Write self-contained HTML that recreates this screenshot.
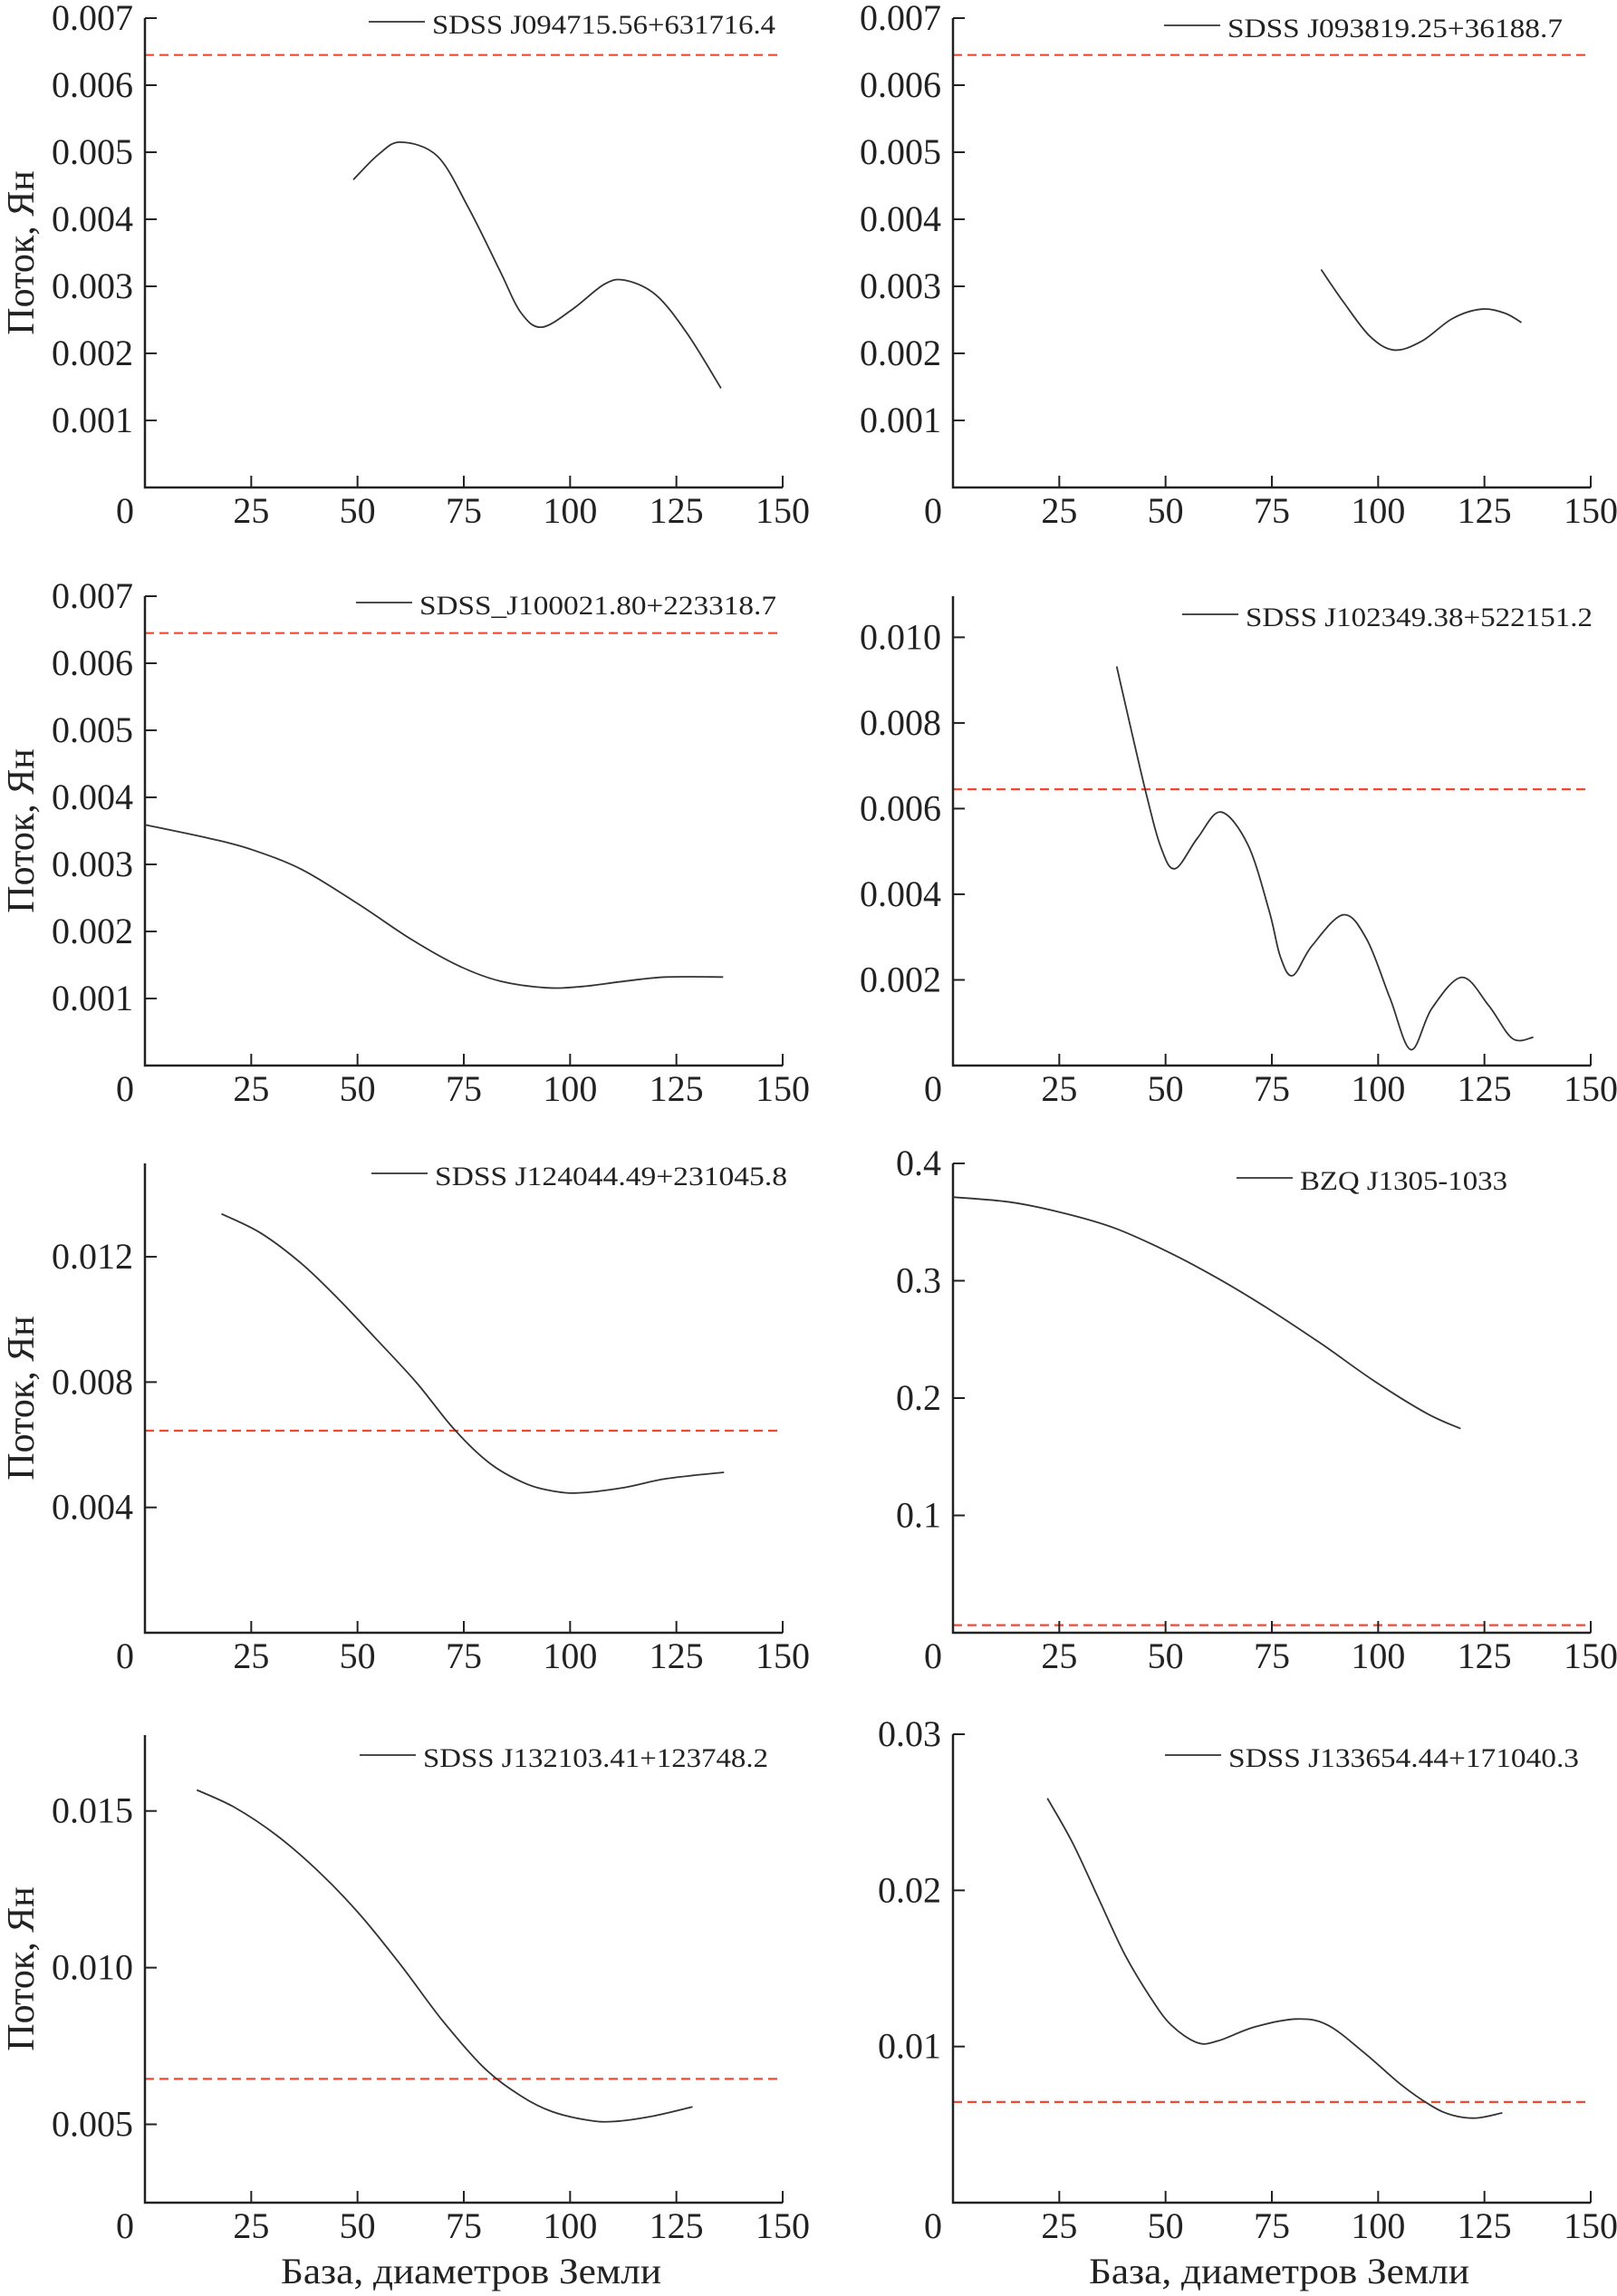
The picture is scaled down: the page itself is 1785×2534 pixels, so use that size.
<!DOCTYPE html>
<html><head><meta charset="utf-8">
<style>
html,body{margin:0;padding:0;background:#fff;}
svg{display:block;}
text{font-family:"Liberation Serif",serif;fill:#222;}
</style></head>
<body>
<svg id="fig" width="1785" height="2534" viewBox="0 0 1785 2534" xmlns="http://www.w3.org/2000/svg"></svg>
<script>
// ---- data ----
const xTickValues = [0, 25, 50, 75, 100, 125, 150];
const xTickLabels = ["0", "25", "50", "75", "100", "125", "150"];
const thresholdValue = 0.00645;

const p1Name = "SDSS J094715.56+631716.4";
const p1X = [49, 55, 60.2, 68.8, 76.1, 83.5, 88.4, 93.3, 100.6, 108, 112.9, 120.2, 127.5, 135.5];
const p1Y = [0.00459, 0.00497, 0.00515, 0.00494, 0.00417, 0.00323, 0.00261, 0.00239, 0.00266, 0.00303, 0.00309, 0.00287, 0.0023, 0.00148];
const p1Ticks = [0.001, 0.002, 0.003, 0.004, 0.005, 0.006, 0.007];
const p1TickLabels = ["0.001", "0.002", "0.003", "0.004", "0.005", "0.006", "0.007"];

const p2Name = "SDSS J093819.25+36188.7";
const p2X = [86.6, 91.8, 98, 103.7, 110.2, 117.5, 124.3, 129.8, 133.7];
const p2Y = [0.00325, 0.00277, 0.00226, 0.00205, 0.00218, 0.00252, 0.00266, 0.0026, 0.00246];
const p2Ticks = [0.001, 0.002, 0.003, 0.004, 0.005, 0.006, 0.007];
const p2TickLabels = ["0.001", "0.002", "0.003", "0.004", "0.005", "0.006", "0.007"];

const p3Name = "SDSS_J100021.80+223318.7";
const p3X = [0, 15, 24.7, 37, 50.4, 62.7, 73.7, 83.5, 94.5, 103, 113, 122.6, 136];
const p3Y = [0.00359, 0.00339, 0.00323, 0.00292, 0.0024, 0.00188, 0.00149, 0.00126, 0.00116, 0.00118, 0.00126, 0.00132, 0.00132];
const p3Ticks = [0.001, 0.002, 0.003, 0.004, 0.005, 0.006, 0.007];
const p3TickLabels = ["0.001", "0.002", "0.003", "0.004", "0.005", "0.006", "0.007"];

const p4Name = "SDSS J102349.38+522151.2";
const p4X = [38.5, 45.2, 49, 52.3, 57.5, 63, 69.4, 74.4, 77, 79.9, 84.4, 91.8, 97.3, 102.8, 107.7, 112.6, 119.7, 126, 131.6, 136.5];
const p4Y = [0.00932, 0.00645, 0.00507, 0.0046, 0.00531, 0.00592, 0.00515, 0.0036, 0.00254, 0.0021, 0.00279, 0.00352, 0.00295, 0.00157, 0.00037, 0.00133, 0.00206, 0.0014, 0.00063, 0.00066];
const p4Ticks = [0.002, 0.004, 0.006, 0.008, 0.010];
const p4TickLabels = ["0.002", "0.004", "0.006", "0.008", "0.010"];

const p5Name = "SDSS J124044.49+231045.8";
const p5X = [18, 27.2, 37, 45.6, 54.1, 63.9, 72.5, 81, 89.6, 97, 103.1, 112.9, 122.7, 136.2];
const p5Y = [0.01337, 0.01276, 0.01176, 0.01064, 0.00942, 0.00798, 0.00653, 0.00542, 0.00476, 0.0045, 0.00447, 0.00464, 0.00492, 0.00512];
const p5Ticks = [0.004, 0.008, 0.012];
const p5TickLabels = ["0.004", "0.008", "0.012"];

const p6Name = "BZQ J1305-1033";
const p6X = [0, 13.4, 25.6, 37.9, 50.1, 62.4, 74.6, 86.9, 99.1, 111.4, 119.4];
const p6Y = [0.3713, 0.367, 0.358, 0.345, 0.3254, 0.3018, 0.2751, 0.2456, 0.2145, 0.187, 0.174];
const p6Ticks = [0.1, 0.2, 0.3, 0.4];
const p6TickLabels = ["0.1", "0.2", "0.3", "0.4"];

const p7Name = "SDSS J132103.41+123748.2";
const p7X = [12.2, 21, 30.8, 40.6, 50.4, 60.2, 70, 79.8, 88.4, 95.7, 104.3, 110.4, 119, 128.8];
const p7Y = [0.01567, 0.01512, 0.01424, 0.0131, 0.01172, 0.01008, 0.00831, 0.0068, 0.00591, 0.00541, 0.00513, 0.00509, 0.00525, 0.00556];
const p7Ticks = [0.005, 0.010, 0.015];
const p7TickLabels = ["0.005", "0.010", "0.015"];

const p8Name = "SDSS J133654.44+171040.3";
const p8X = [22.2, 28.1, 34.2, 40.3, 46.4, 51.3, 57.5, 62.4, 71, 80.8, 88.1, 96.7, 105.3, 112.6, 117.5, 123, 129.2];
const p8Y = [0.0259, 0.02306, 0.0195, 0.01595, 0.01316, 0.01138, 0.01024, 0.01037, 0.01126, 0.01176, 0.01138, 0.00961, 0.00758, 0.00619, 0.0056, 0.00542, 0.00575];
const p8Ticks = [0.01, 0.02, 0.03];
const p8TickLabels = ["0.01", "0.02", "0.03"];

// ---- layout (pixels, not data) ----
const NS = "http://www.w3.org/2000/svg";
const svg = document.getElementById("fig");
function mk(tag, attrs, parent) {
  const e = document.createElementNS(NS, tag);
  for (const k in attrs) e.setAttribute(k, attrs[k]);
  (parent || svg).appendChild(e);
  return e;
}
const panels = [
  {id:"p1", name:p1Name, xs:p1X, ys:p1Y, ticks:p1Ticks, labels:p1TickLabels, L:160, R:864, T:20, B:538, ymin:0, ymax:0.007, lgx:407, lgy:24, lgEnd:856, ytitle:true},
  {id:"p2", name:p2Name, xs:p2X, ys:p2Y, ticks:p2Ticks, labels:p2TickLabels, L:1052, R:1756, T:20, B:538, ymin:0, ymax:0.007, lgx:1285, lgy:28, lgEnd:1725, ytitle:false},
  {id:"p3", name:p3Name, xs:p3X, ys:p3Y, ticks:p3Ticks, labels:p3TickLabels, L:160, R:864, T:658, B:1176, ymin:0, ymax:0.007, lgx:393, lgy:665, lgEnd:857, ytitle:true},
  {id:"p4", name:p4Name, xs:p4X, ys:p4Y, ticks:p4Ticks, labels:p4TickLabels, L:1052, R:1756, T:658, B:1176, ymin:0, ymax:0.01096, lgx:1305, lgy:678, lgEnd:1758, ytitle:false},
  {id:"p5", name:p5Name, xs:p5X, ys:p5Y, ticks:p5Ticks, labels:p5TickLabels, L:160, R:864, T:1284, B:1802, ymin:0, ymax:0.01498, lgx:410, lgy:1295, lgEnd:869, ytitle:true},
  {id:"p6", name:p6Name, xs:p6X, ys:p6Y, ticks:p6Ticks, labels:p6TickLabels, L:1052, R:1756, T:1284, B:1802, ymin:0, ymax:0.4, lgx:1365, lgy:1300, lgEnd:1664, ytitle:false},
  {id:"p7", name:p7Name, xs:p7X, ys:p7Y, ticks:p7Ticks, labels:p7TickLabels, L:160, R:864, T:1915, B:2431, ymin:0.0025, ymax:0.01742, lgx:397, lgy:1937, lgEnd:848, ytitle:true, xtitle:true},
  {id:"p8", name:p8Name, xs:p8X, ys:p8Y, ticks:p8Ticks, labels:p8TickLabels, L:1052, R:1756, T:1914, B:2431, ymin:0, ymax:0.03, lgx:1286, lgy:1937, lgEnd:1743, ytitle:false, xtitle:true}
];

function smoothPath(pts) {
  let d = "M" + pts[0][0].toFixed(1) + "," + pts[0][1].toFixed(1);
  for (let i = 0; i < pts.length - 1; i++) {
    const p0 = pts[Math.max(0, i - 1)], p1 = pts[i], p2 = pts[i + 1], p3 = pts[Math.min(pts.length - 1, i + 2)];
    const c1x = p1[0] + (p2[0] - p0[0]) / 6, c1y = p1[1] + (p2[1] - p0[1]) / 6;
    const c2x = p2[0] - (p3[0] - p1[0]) / 6, c2y = p2[1] - (p3[1] - p1[1]) / 6;
    d += " C" + c1x.toFixed(1) + "," + c1y.toFixed(1) + " " + c2x.toFixed(1) + "," + c2y.toFixed(1) + " " + p2[0].toFixed(1) + "," + p2[1].toFixed(1);
  }
  return d;
}

panels.forEach(function (p) {
  const xScale = function (v) { return p.L + (v - 0) / 150 * (p.R - p.L); };
  const yScale = function (v) { return p.B - (v - p.ymin) / (p.ymax - p.ymin) * (p.B - p.T); };
  const g = mk("g", {});
  
  

  // threshold line
  const th = mk("line", {x1:p.L, x2:p.R, y1:yScale(thresholdValue), y2:yScale(thresholdValue), stroke:"#ee4a33", "stroke-width":2.2, "stroke-dasharray":"10,6"}, g);
  
  

  // axes
  const ax = mk("path", {d:"M" + p.L + "," + p.T + " L" + p.L + "," + p.B + " L" + p.R + "," + p.B, fill:"none", stroke:"#222", "stroke-width":2.5}, g);
  
  

  // x ticks
  xTickValues.forEach(function (v, i) {
    const x = xScale(v);
    if (i > 0) {
      const t = mk("line", {x1:x, x2:x, y1:p.B, y2:p.B - 13, stroke:"#222", "stroke-width":2}, g);
      
      
    }
    const tx = mk("text", {x:(i === 0 ? x - 22 : x), y:p.B + 39, "font-size":40, "text-anchor":"middle"}, g);
    tx.textContent = xTickLabels[i];
    
    
  });

  // y ticks
  p.ticks.forEach(function (v, i) {
    const y = yScale(v);
    const t = mk("line", {x1:p.L, x2:p.L + 13, y1:y, y2:y, stroke:"#222", "stroke-width":2}, g);
    
    
    const tx = mk("text", {x:p.L - 13, y:y + 13, "font-size":40, "text-anchor":"end"}, g);
    tx.textContent = p.labels[i];
    
    
  });

  // series
  const pts = p.xs.map(function (x, i) { return [xScale(x), yScale(p.ys[i])]; });
  const line = mk("path", {d:smoothPath(pts), fill:"none", stroke:"#333", "stroke-width":1.8}, g);
  
  

  // legend
  const lg = mk("g", {}, g);
  
  
  mk("line", {x1:p.lgx, x2:p.lgx + 62, y1:p.lgy, y2:p.lgy, stroke:"#333", "stroke-width":1.8}, lg);
  const lt = mk("text", {x:p.lgx + 70, y:p.lgy + 13, "font-size":30, textLength:(p.lgEnd - p.lgx - 70), lengthAdjust:"spacingAndGlyphs"}, lg);
  lt.textContent = p.name;
  
  

  if (p.ytitle) {
    const cy = (p.T + p.B) / 2;
    const yt = mk("text", {x:0, y:0, "font-size":42, "text-anchor":"middle", transform:"translate(37," + cy + ") rotate(-90)"}, g);
    yt.textContent = "Поток, Ян";
    
    
  }
  if (p.xtitle) {
    const cx = (p.L + p.R) / 2 + 8;
    const xt = mk("text", {x:cx, y:p.B + 89, "font-size":40, "text-anchor":"middle", textLength:420, lengthAdjust:"spacingAndGlyphs"}, g);
    xt.textContent = "База, диаметров Земли";
    
    
  }
});
</script>
</body></html>
